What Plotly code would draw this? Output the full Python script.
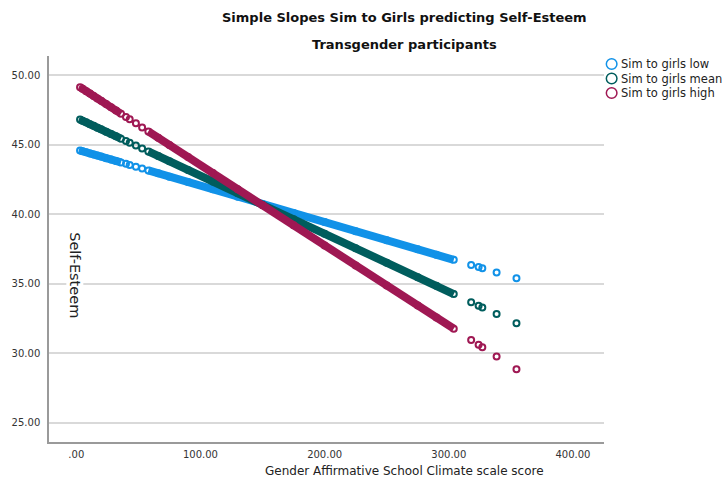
import plotly.graph_objects as go

# Gender Affirmative School Climate scale scores (predictor)
climate_score = [3, 5, 8, 11, 14, 17, 20, 24, 28, 32, 36,
                 40, 43, 48, 53,
                 58, 66, 75, 90, 110, 130, 150, 175, 200, 225, 250, 275, 290, 304,
                 318, 324, 327, 338.5, 354.5]

# Predicted Self-Esteem at three levels of similarity to girls
esteem_low = [44.58, 44.53, 44.45, 44.37, 44.29, 44.22, 44.14, 44.03, 43.93, 43.82, 43.72,
              43.62, 43.54, 43.41, 43.28,
              43.15, 42.94, 42.70, 42.31, 41.79, 41.26, 40.74, 40.09, 39.44, 38.78, 38.13, 37.48, 37.09, 36.72,
              36.35, 36.20, 36.12, 35.82, 35.40]
esteem_mean = [46.80, 46.72, 46.60, 46.47, 46.35, 46.22, 46.10, 45.93, 45.76, 45.60, 45.43,
               45.26, 45.14, 44.93, 44.72,
               44.51, 44.18, 43.81, 43.18, 42.35, 41.51, 40.68, 39.64, 38.60, 37.55, 36.51, 35.47, 34.85, 34.26,
               33.68, 33.43, 33.30, 32.82, 32.16]
esteem_high = [49.13, 49.01, 48.84, 48.67, 48.49, 48.32, 48.15, 47.92, 47.69, 47.45, 47.22,
               46.99, 46.82, 46.53, 46.24,
               45.95, 45.49, 44.97, 44.11, 42.96, 41.80, 40.65, 39.21, 37.76, 36.32, 34.88, 33.44, 32.57, 31.77,
               30.96, 30.61, 30.44, 29.78, 28.85]

series_names = ["Sim to girls low", "Sim to girls mean", "Sim to girls high"]
series_colors = ["#1192e8", "#005d5d", "#9f1853"]

x_tick_values = [0, 100, 200, 300, 400]
x_tick_labels = [".00", "100.00", "200.00", "300.00", "400.00"]
y_tick_values = [25, 30, 35, 40, 45, 50]
y_tick_labels = ["25.00", "30.00", "35.00", "40.00", "45.00", "50.00"]

# index ranges where the observations are packed tightly enough to merge into a band
dense_runs = [(0, 11), (15, 29)]

FONT = "DejaVu Sans"
fig = go.Figure()

for name, color, ys in zip(series_names, series_colors,
                           [esteem_low, esteem_mean, esteem_high]):
    for a, b in dense_runs:
        fig.add_trace(go.Scatter(
            x=climate_score[a:b], y=ys[a:b], mode="lines",
            line=dict(color=color, width=8), hoverinfo="skip", showlegend=False))
    fig.add_trace(go.Scatter(
        x=climate_score, y=ys, mode="markers", name=name, showlegend=False,
        marker=dict(symbol="circle-open", size=6, color=color,
                    line=dict(width=2, color=color))))

fig.update_layout(
    width=723, height=483,
    margin=dict(l=45, r=119, t=56, b=41),
    plot_bgcolor="white", paper_bgcolor="white",
    font=dict(family=FONT, color="#333333"),
    showlegend=False,
    xaxis=dict(range=[-22, 425], tickvals=x_tick_values, ticktext=x_tick_labels,
               showgrid=False, zeroline=False, showline=True, linecolor="#9a9a9a",
               linewidth=1.5, ticks="", ticklabelstandoff=2,
               tickfont=dict(size=10, color="#333333")),
    yaxis=dict(range=[23.63, 51.37], tickvals=y_tick_values, ticktext=y_tick_labels,
               showgrid=True, gridcolor="#d9d9d9", gridwidth=1.5, zeroline=False,
               showline=True, linecolor="#9a9a9a", linewidth=1.5, ticks="",
               ticklabelstandoff=5, tickfont=dict(size=10, color="#333333")),
)

def px_x(px):
    return (px - 45) / 559

def px_y(py):
    return (442 - py) / 386

annotations = [
    dict(text="<b>Simple Slopes Sim to Girls predicting Self-Esteem</b>",
         x=px_x(403), y=px_y(17), font=dict(size=13, color="#111111")),
    dict(text="<b>Transgender participants</b>",
         x=px_x(403), y=px_y(45), font=dict(size=13, color="#111111")),
    dict(text="Gender Affirmative School Climate scale score",
         x=px_x(403), y=px_y(471), font=dict(size=12, color="#222222")),
    dict(text="Self-Esteem", textangle=90, bgcolor="white", borderpad=0,
         x=px_x(71), y=px_y(275), font=dict(size=14.5, color="#222222")),
]
for a in annotations:
    a.update(xref="paper", yref="paper", showarrow=False,
             xanchor="center", yanchor="middle")

legend_rows = [64, 78.5, 93]
for name, color, row in zip(series_names, series_colors, legend_rows):
    annotations.append(dict(text=name, xref="paper", yref="paper", showarrow=False,
                            x=px_x(619), y=px_y(row), xanchor="left", yanchor="middle",
                            font=dict(size=11.5, color="#222222")))
    fig.add_shape(type="circle", xref="paper", yref="paper",
                  xsizemode="pixel", ysizemode="pixel",
                  xanchor=px_x(611.7), yanchor=px_y(row),
                  x0=-5.3, x1=5.3, y0=-5.3, y1=5.3,
                  line=dict(color=color, width=1.5), fillcolor="rgba(0,0,0,0)")

fig.update_layout(annotations=annotations)
fig.write_html("out.html")
